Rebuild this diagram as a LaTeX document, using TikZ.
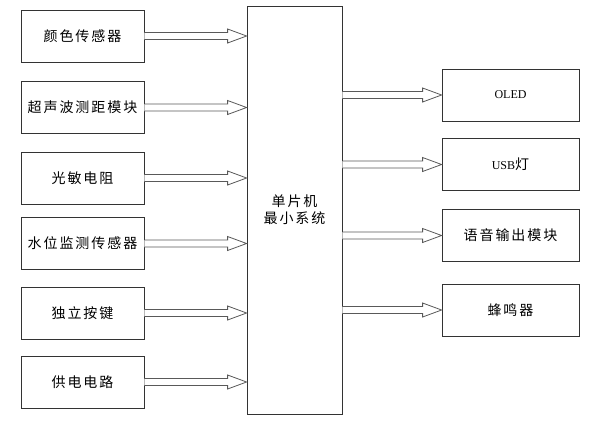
\documentclass[tikz,border=0pt]{standalone}
\usepackage{fontspec}
\setmainfont{Liberation Serif}
\newfontfamily\cjk[LetterSpace=14]{Noto Sans CJK SC}
\usetikzlibrary{calc}
\tikzset{
  blk/.style={draw=black!80, line width=0.8pt, minimum width=123pt, minimum height=52pt, inner sep=0pt, font=\fontsize{14}{17}\cjk},
  rblk/.style={blk, minimum width=137pt},
  fatar/.style={draw=black!65, line width=0.8pt, fill=white, line join=miter},
}
\newcommand\fatarrow[2]{%
  \path (#1.east) coordinate (s) (#1.east -| #2.west) coordinate (e);
  \draw[fatar] ($(s)+(0,-3.5)$) -- ($(e)+(-19,-3.5)$) -- ($(e)+(-19,-7)$) -- (e) -- ($(e)+(-19,7)$) -- ($(e)+(-19,3.5)$) -- ($(s)+(0,3.5)$);
}
\newcommand\fatarrowR[2]{%
  \path (#2.west) coordinate (e) (#2.west -| #1.east) coordinate (s);
  \draw[fatar] ($(s)+(0,-3.5)$) -- ($(e)+(-19,-3.5)$) -- ($(e)+(-19,-7)$) -- (e) -- ($(e)+(-19,7)$) -- ($(e)+(-19,3.5)$) -- ($(s)+(0,3.5)$);
}
\begin{document}
\begin{tikzpicture}[x=1pt,y=-1pt]
\useasboundingbox (0,0) rectangle (597,424);
\fill[white] (0,0) rectangle (597,424);
% central
\node[draw=black!80, line width=0.8pt, minimum width=95pt, minimum height=408pt, inner sep=0pt,
  font=\fontsize{14}{17}\cjk, align=center] (mcu) at (294.5,210) {单片机\\最小系统};
% left
\node[blk] (l1) at (82.5,36) {颜色传感器};
\node[blk] (l2) at (82.5,107.5) {超声波测距模块};
\node[blk] (l3) at (82.5,178) {光敏电阻};
\node[blk] (l4) at (82.5,243.5) {水位监测传感器};
\node[blk] (l5) at (82.5,313) {独立按键};
\node[blk] (l6) at (82.5,382) {供电电路};
% right
\node[rblk, font=\fontsize{12}{14}\selectfont] (r1) at (510.5,95) {OLED};
\node[rblk, font=\fontsize{12}{14}\selectfont] (r2) at (510.5,164.5) {USB{\fontsize{14}{17}\cjk 灯}};
\node[rblk] (r3) at (510.5,235.5) {语音输出模块};
\node[rblk] (r4) at (510.5,310) {蜂鸣器};
% arrows
\fatarrow{l1}{mcu}
\fatarrow{l2}{mcu}
\fatarrow{l3}{mcu}
\fatarrow{l4}{mcu}
\fatarrow{l5}{mcu}
\fatarrow{l6}{mcu}
\fatarrowR{mcu}{r1}
\fatarrowR{mcu}{r2}
\fatarrowR{mcu}{r3}
\fatarrowR{mcu}{r4}
\end{tikzpicture}
\end{document}
